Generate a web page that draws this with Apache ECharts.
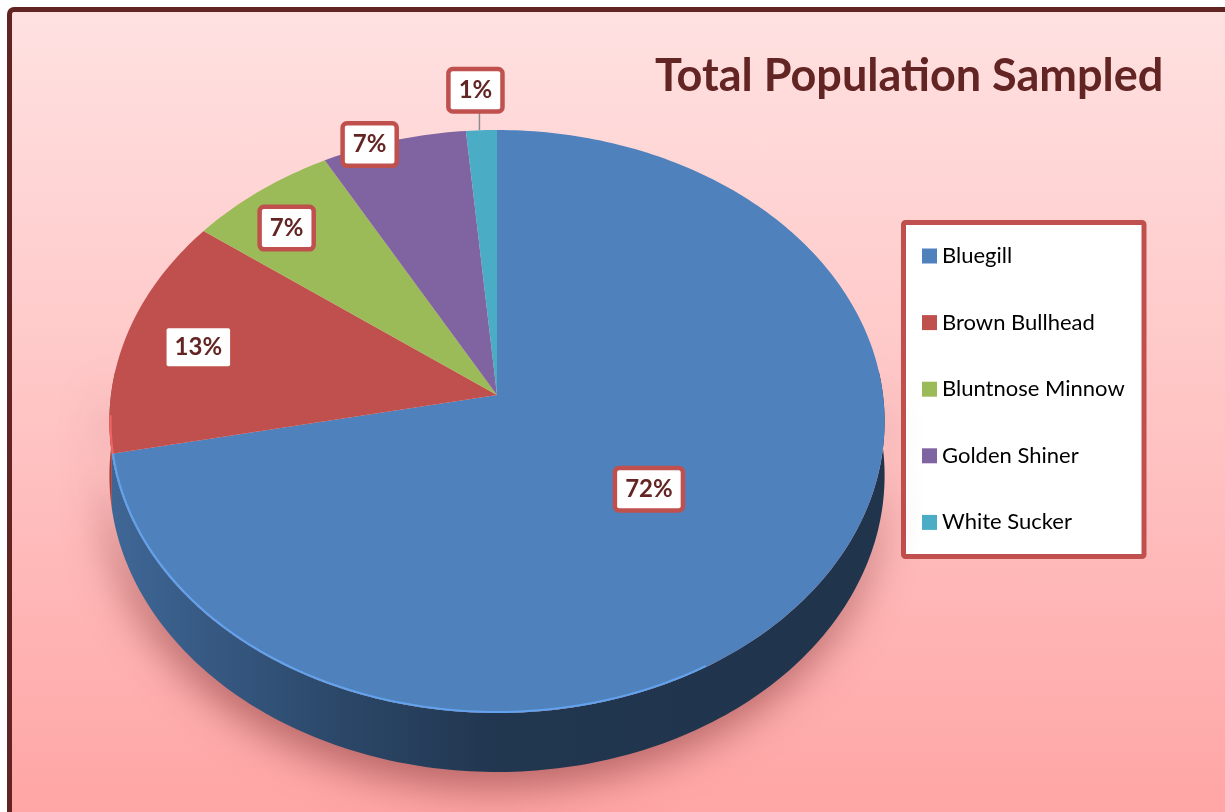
<!DOCTYPE html>
<html><head><meta charset="utf-8">
<script src="https://cdn.jsdelivr.net/npm/echarts/dist/echarts.min.js"></script>
<style>
html,body{margin:0;padding:0;background:#fff;width:1225px;height:812px;overflow:hidden;}
#frame{position:absolute;left:7px;top:7px;width:1250px;height:840px;border:5px solid #622423;border-radius:7px;background:linear-gradient(to bottom,#ffe1e1 0%,#ffc3c3 50%,#ffa2a2 100%);}
#chart{position:absolute;left:0;top:0;width:1225px;height:812px;}
</style></head><body>
<div id="frame"></div><div id="chart"></div>
<script>
// ---- data ----
const categories = ['Bluegill', 'Brown Bullhead', 'Bluntnose Minnow', 'Golden Shiner', 'White Sucker'];
const values = [71.8, 13.4, 6.8, 6.6, 1.4];
const colors = ['#4f81bd', '#c0504d', '#9bbb59', '#8064a2', '#4bacc6'];
const titleText = 'Total Population Sampled';

// ---- layout (3D perspective pie) ----
const PIE = {cx: 497, cy: 395, a: 386, b: 289.1, k: 0.0909, depth: 53.6};
const LABEL_LAYOUT = [
  {r: 0.5, dx: -2, dy: 0},
  {r: 0.8, dx: -2, dy: 2},
  {r: 0.88, dx: 0, dy: 14},
  {r: 1.0, dx: -24, dy: 4},
  {r: 1.0, dx: -6, dy: -40, leader: true}
];

function proj(theta, f, down) {
  const t = theta * Math.PI / 180;
  const x = f * Math.sin(t), z = -f * Math.cos(t);
  const d = 1 - PIE.k * z;
  return [PIE.cx + PIE.a * x / d, PIE.cy + (PIE.b * z + (down ? PIE.depth : 0)) / d];
}
function shade(hex, m) {
  const n = parseInt(hex.slice(1), 16);
  const c = [(n >> 16) & 255, (n >> 8) & 255, n & 255].map(v => Math.max(0, Math.min(255, Math.round(v * m))));
  return 'rgb(' + c.join(',') + ')';
}
function arcPoints(a0, a1, f, down) {
  const n = Math.max(2, Math.ceil(Math.abs(a1 - a0)));
  const pts = [];
  for (let s = 0; s <= n; s++) pts.push(proj(a0 + (a1 - a0) * s / n, f, down));
  return pts;
}

function makeRender(i) {
  return function (params, api) {
    const v = api.value(0);
    const total = values.reduce((s, x) => s + x, 0);
    let before = 0;
    for (let j = 0; j < i; j++) before += values[j];
    const a0 = before / total * 360, a1 = (before + v) / total * 360;
    const children = [];
    const color = colors[i];
    // side band (front visible part only)
    const s0 = Math.max(a0, 85), s1 = Math.min(a1, 275);
    if (s1 > s0) {
      const top = arcPoints(s0, s1, 1, false), bot = arcPoints(s0, s1, 1, true);
      const grad = new echarts.graphic.LinearGradient(110, 0, 885, 0, [
        {offset: 0, color: shade(color, 0.80)},
        {offset: 0.3, color: shade(color, 0.55)},
        {offset: 0.5, color: shade(color, 0.42)},
        {offset: 1, color: shade(color, 0.40)}
      ], true);
      children.push({type: 'polygon', z2: 1, shape: {points: top.concat(bot.reverse())},
        style: {fill: grad, shadowBlur: 40, shadowColor: 'rgba(110,30,30,0.5)', shadowOffsetY: 16, shadowOffsetX: -4}});
    }
    // top face
    children.push({type: 'polygon', z2: 5, shape: {points: [proj(0, 0, false)].concat(arcPoints(a0, a1, 1, false))},
      style: {fill: color}});
    // rim highlight
    const h0 = Math.max(a0, 150), h1 = Math.min(a1, 266);
    if (h1 > h0) {
      children.push({type: 'polyline', z2: 6, shape: {points: arcPoints(h0, h1, 0.997, false)},
        style: {stroke: shade(color, 1.28), lineWidth: 2, fill: null, opacity: 0.9}});
    }
    // label
    const L = LABEL_LAYOUT[i];
    const mid = (a0 + a1) / 2;
    const p = proj(mid, L.r, false);
    const lx = p[0] + L.dx, ly = p[1] + L.dy;
    if (L.leader) {
      const e = proj(mid, 1, false);
      children.push({type: 'line', z2: 8, shape: {x1: e[0] - 2, y1: e[1], x2: e[0] - 2, y2: ly + 19},
        style: {stroke: '#8c8c8c', lineWidth: 1.5}});
    }
    children.push({type: 'text', z2: 10, x: lx, y: ly, style: {
      text: Math.round(v / total * 100) + '%', fontFamily: 'Lato', fontWeight: 'bold', fontSize: 24,
      fill: '#632523', align: 'center', verticalAlign: 'middle', lineHeight: 24,
      backgroundColor: '#fff', borderColor: '#c0504d', borderWidth: 4.5, borderRadius: 2, padding: [7, 8]
    }});
    return {type: 'group', children};
  };
}

const chart = echarts.init(document.getElementById('chart'), null, {renderer: 'canvas'});
chart.setOption({
  backgroundColor: 'transparent',
  animation: false,
  title: {text: titleText, left: 655, top: 51, padding: 0,
    textStyle: {fontFamily: 'Lato', fontWeight: 'bold', fontSize: 45, color: '#632523', lineHeight: 50}},
  graphic: [{type: 'rect', z: 0, shape: {x: 903.5, y: 222.5, width: 240.5, height: 334, r: 2},
    style: {fill: '#fff', stroke: '#c0504d', lineWidth: 5}}],
  legend: {orient: 'vertical', left: 922, top: 244, padding: 0, itemGap: 42.6, itemWidth: 15, itemHeight: 15,
    icon: 'rect', selectedMode: false, data: categories,
    textStyle: {fontFamily: 'Lato', fontSize: 22, color: '#000', lineHeight: 24}},
  series: categories.map((name, i) => ({
    type: 'custom', name, coordinateSystem: 'none', silent: true, z: 2,
    itemStyle: {color: colors[i]},
    data: [[values[i]]],
    renderItem: makeRender(i)
  }))
});
</script>
</body></html>
